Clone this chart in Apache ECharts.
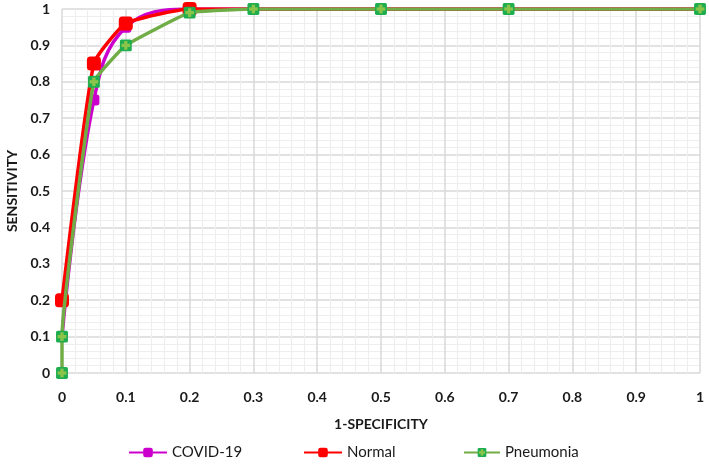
<!DOCTYPE html>
<html><head><meta charset="utf-8">
<script src="https://cdn.jsdelivr.net/npm/echarts@6/dist/echarts.min.js"></script>
<style>html,body{margin:0;padding:0;background:#fff}#c{width:709px;height:464px}</style>
</head><body><div id="c"></div>
<script>
var covidX = [0, 0.05, 0.1, 0.2, 0.3, 0.5, 0.7, 1];
var covidY = [0.1, 0.75, 0.95, 1, 1, 1, 1, 1];
var normalX = [0, 0.05, 0.1, 0.2, 0.3, 0.5, 0.7, 1];
var normalY = [0.2, 0.85, 0.96, 1, 1, 1, 1, 1];
var pneuX = [0, 0, 0.05, 0.1, 0.2, 0.3, 0.5, 0.7, 1];
var pneuY = [0, 0.1, 0.8, 0.9, 0.99, 1, 1, 1, 1];
var axisTicks = [0, 0.1, 0.2, 0.3, 0.4, 0.5, 0.6, 0.7, 0.8, 0.9, 1];

function pairs(xs, ys){ return xs.map(function(x,i){return [x, ys[i]];}); }
var plusSvg = '<svg xmlns="http://www.w3.org/2000/svg" width="24" height="24" viewBox="0 0 24 24">' +
  '<rect x="1" y="1" width="22" height="22" rx="3" fill="#1fae4f"/>' +
  '<rect x="9" y="4" width="6" height="16" fill="#8cc44a"/>' +
  '<rect x="4" y="9" width="16" height="6" fill="#8cc44a"/></svg>';
var plusSym = 'image://data:image/svg+xml;base64,' + btoa(plusSvg);
var font = 'Lato, "Open Sans", sans-serif';
function fmt(v){ var t = axisTicks.filter(function(a){return Math.abs(a-v)<1e-9;}); return t.length ? String(t[0]) : ''; }
function hideFlat(size){ return function(val){ return val[0] >= 0.25 ? 0 : size; }; }

var chart = echarts.init(document.getElementById('c'), null, {renderer:'canvas'});
chart.setOption({
  animation: false,
  backgroundColor: '#ffffff',
  grid: {left: 62, right: 9, top: 9, bottom: 91, containLabel: false, outerBoundsMode: 'none'},
  xAxis: {
    type: 'value', min: 0, max: 1, interval: 0.1,
    name: '1-SPECIFICITY', nameLocation: 'middle', nameGap: 44,
    nameTextStyle: {fontFamily: font, fontWeight: 'bold', fontSize: 14, color: '#1a1a1a'},
    axisLine: {show: false}, axisTick: {show: false},
    axisLabel: {fontFamily: font, fontWeight: 'bold', fontSize: 14, color: '#1a1a1a', margin: 17, formatter: fmt},
    splitLine: {show: true, lineStyle: {color: '#d9d9d9', width: 1.5}},
    minorTick: {show: false, splitNumber: 5},
    minorSplitLine: {show: true, lineStyle: {color: '#eeeeee', width: 1.2}}
  },
  yAxis: {
    type: 'value', min: 0, max: 1, interval: 0.1,
    name: 'SENSITIVITY', nameLocation: 'middle', nameGap: 42,
    nameTextStyle: {fontFamily: font, fontWeight: 'bold', fontSize: 14, color: '#1a1a1a'},
    axisLine: {show: false}, axisTick: {show: false},
    axisLabel: {fontFamily: font, fontWeight: 'bold', fontSize: 14, color: '#1a1a1a', margin: 12, formatter: fmt},
    splitLine: {show: true, lineStyle: {color: '#d9d9d9', width: 1.5}},
    minorTick: {show: false, splitNumber: 5},
    minorSplitLine: {show: true, lineStyle: {color: '#eeeeee', width: 1.2}}
  },
  legend: [
    {data: ['COVID-19'], left: 128, top: 445, padding: 0, itemWidth: 38, itemHeight: 12,
     textStyle: {fontFamily: font, fontSize: 15, color: '#1a1a1a'}},
    {data: ['Normal'], left: 303, top: 445, padding: 0, itemWidth: 38, itemHeight: 12,
     textStyle: {fontFamily: font, fontSize: 15, color: '#1a1a1a'}},
    {data: ['Pneumonia'], left: 463, top: 445, padding: 0, itemWidth: 36, itemHeight: 12,
     textStyle: {fontFamily: font, fontSize: 15, color: '#1a1a1a'}}
  ],
  series: [
    {name: 'COVID-19', type: 'line', data: pairs(covidX, covidY), smooth: 0.4,
     symbol: 'roundRect', symbolSize: hideFlat(11), color: '#cc00cc',
     lineStyle: {width: 3.5, color: '#cc00cc'}, itemStyle: {color: '#cc00cc'}, z: 2},
    {name: 'Normal', type: 'line', data: pairs(normalX, normalY), smooth: 0.15,
     symbol: 'roundRect', symbolSize: hideFlat(14), color: '#ff0000',
     lineStyle: {width: 3.5, color: '#ff0000'}, itemStyle: {color: '#ff0000'}, z: 3},
    {name: 'Pneumonia', type: 'line', data: pairs(pneuX, pneuY), smooth: 0.1,
     symbol: plusSym, symbolSize: 13, color: '#70ad47',
     lineStyle: {width: 3.5, color: '#70ad47'}, itemStyle: {color: '#70ad47'}, z: 4}
  ]
});
</script></body></html>
